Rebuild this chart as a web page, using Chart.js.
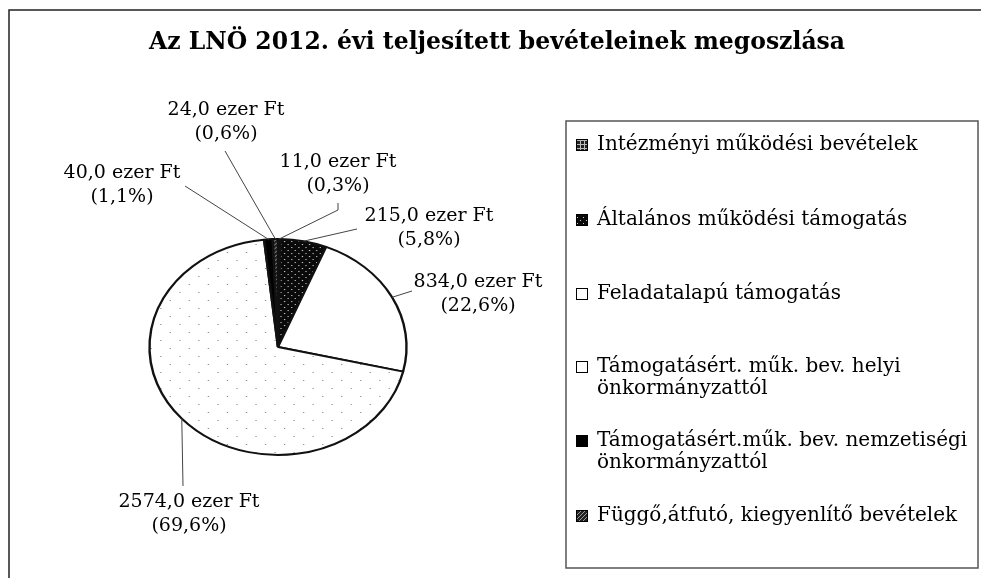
<!DOCTYPE html>
<html>
<head>
<meta charset="utf-8">
<script src="https://cdn.jsdelivr.net/npm/chart.js@4.4.1/dist/chart.umd.min.js"></script>
<style>
    html, body { margin: 0; padding: 0; background: #fff; }
</style>
</head>
<body>
<canvas id="myChart" width="981" height="578"></canvas>
<script>
const chartTitle = 'Az LNÖ 2012. évi teljesített bevételeinek megoszlása';
const categories = [
    'Intézményi működési bevételek',
    'Általános működési támogatás',
    'Feladatalapú támogatás',
    ['Támogatásért. műk. bev. helyi', 'önkormányzattól'],
    ['Támogatásért.műk. bev. nemzetiségi', 'önkormányzattól'],
    'Függő,átfutó, kiegyenlítő bevételek'
];
const values = [11, 215, 834, 2574, 40, 24];
const unit = 'ezer Ft';

// where the data labels sit (centre of first line) and where their leader lines start
const labelPos = [[338, 162], [429, 216], [478, 282], [189, 502], [122, 173], [226, 110]];
const leaderStart = [[338, 203], [357, 229], [412, 291], [183, 486], [185, 186], [225, 151]];
const legendRowY = [145, 220, 294, 367, 441, 516];

const stretchX = 1.19;   // the scanned pie is an ellipse
const font = 'DejaVu Serif, serif';

function makePattern(kind) {
    const c = document.createElement('canvas');
    const ctx = c.getContext('2d');
    if (kind === 'sparse') {
        c.width = 16; c.height = 16;
        ctx.fillStyle = '#fff'; ctx.fillRect(0, 0, 16, 16);
        ctx.fillStyle = '#888';
        ctx.fillRect(3, 4, 1, 1);
        ctx.fillRect(11, 12, 1, 1);
    } else if (kind === 'darkdots') {
        c.width = 6; c.height = 6;
        ctx.fillStyle = '#0a0a0a'; ctx.fillRect(0, 0, 6, 6);
        ctx.fillStyle = '#ccc';
        ctx.fillRect(1, 1, 1, 1);
        ctx.fillRect(4, 4, 1, 1);
    } else if (kind === 'grid') {
        c.width = 4; c.height = 4;
        ctx.fillStyle = '#222'; ctx.fillRect(0, 0, 4, 4);
        ctx.fillStyle = '#bbb';
        ctx.fillRect(0, 0, 4, 1);
        ctx.fillRect(0, 0, 1, 4);
    } else if (kind === 'hatch') {
        c.width = 4; c.height = 4;
        ctx.fillStyle = '#222'; ctx.fillRect(0, 0, 4, 4);
        ctx.fillStyle = '#999';
        for (let i = 0; i < 4; i++) ctx.fillRect(i, 3 - i, 1, 1);
    }
    return ctx.createPattern(c, 'repeat');
}

const fills = [
    makePattern('grid'),
    makePattern('darkdots'),
    '#ffffff',
    makePattern('sparse'),
    '#000000',
    makePattern('hatch')
];

const total = values.reduce((a, b) => a + b, 0);

function fmt(v) {
    return v.toFixed(1).replace('.', ',');
}

const ellipsePlugin = {
    id: 'ellipse',
    beforeDatasetsDraw(chart) {
        const arc = chart.getDatasetMeta(0).data[0];
        const ctx = chart.ctx;
        ctx.save();
        ctx.translate(arc.x, arc.y);
        ctx.scale(stretchX, 1);
        ctx.translate(-arc.x, -arc.y);
    },
    afterDatasetsDraw(chart) {
        chart.ctx.restore();
    }
};

const decorPlugin = {
    id: 'decor',
    afterDraw(chart) {
        const ctx = chart.ctx;
        const arcs = chart.getDatasetMeta(0).data;
        ctx.save();

        // outer frame (top and left edge of the scan)
        ctx.strokeStyle = '#222';
        ctx.lineWidth = 1.5;
        ctx.beginPath();
        ctx.moveTo(9, 578);
        ctx.lineTo(9, 10);
        ctx.lineTo(981, 10);
        ctx.stroke();

        // title
        ctx.fillStyle = '#000';
        ctx.font = 'bold 23.5px ' + font;
        ctx.textAlign = 'center';
        ctx.textBaseline = 'middle';
        ctx.fillText(chartTitle, 497, 43);

        // leader lines
        ctx.strokeStyle = '#444';
        ctx.lineWidth = 1;
        arcs.forEach((arc, i) => {
            const mid = (arc.startAngle + arc.endAngle) / 2;
            const ex = arc.x + Math.cos(mid) * arc.outerRadius * stretchX;
            const ey = arc.y + Math.sin(mid) * arc.outerRadius;
            const s = leaderStart[i];
            ctx.beginPath();
            ctx.moveTo(s[0], s[1]);
            if (i === 0) ctx.lineTo(s[0], s[1] + 7);
            ctx.lineTo(ex, ey);
            ctx.stroke();
        });

        // data labels
        ctx.fillStyle = '#000';
        ctx.font = '19px ' + font;
        values.forEach((v, i) => {
            const p = labelPos[i];
            ctx.fillText(fmt(v) + ' ' + unit, p[0], p[1]);
            ctx.fillText('(' + fmt(v / total * 100) + '%)', p[0], p[1] + 24);
        });

        // legend box
        ctx.strokeStyle = '#555';
        ctx.lineWidth = 1.5;
        ctx.strokeRect(566, 121, 412, 447);

        ctx.textAlign = 'left';
        ctx.font = '20px ' + font;
        categories.forEach((lab, i) => {
            const y = legendRowY[i];
            ctx.fillStyle = fills[i];
            ctx.fillRect(576, y - 6, 12, 12);
            ctx.strokeStyle = '#000';
            ctx.lineWidth = 1;
            ctx.strokeRect(576.5, y - 5.5, 11, 11);
            ctx.fillStyle = '#000';
            const lines = Array.isArray(lab) ? lab : [lab];
            lines.forEach((t, k) => ctx.fillText(t, 597, y + k * 22));
        });
        ctx.restore();
    }
};

new Chart(document.getElementById('myChart').getContext('2d'), {
    type: 'pie',
    data: {
        labels: categories,
        datasets: [{
            data: values,
            backgroundColor: fills,
            borderColor: '#111',
            borderWidth: 2,
            hoverOffset: 0,
            radius: 108,
            clip: false
        }]
    },
    options: {
        responsive: false,
        animation: false,
        events: [],
        layout: {
            padding: { left: 170, right: 595, top: 239, bottom: 123 }
        },
        plugins: {
            legend: { display: false },
            title: { display: false },
            tooltip: { enabled: false }
        }
    },
    plugins: [ellipsePlugin, decorPlugin]
});
</script>
</body>
</html>
